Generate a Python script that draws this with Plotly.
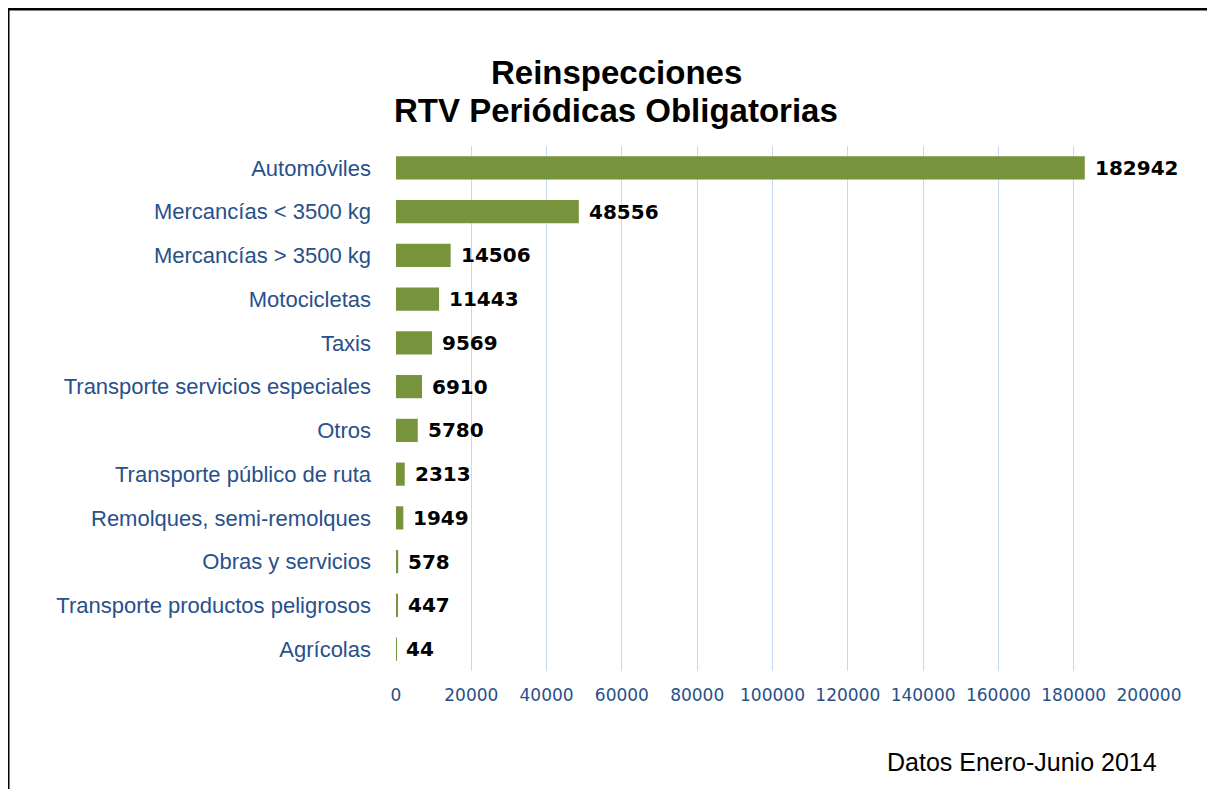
import plotly.graph_objects as go

categories = [
    "Automóviles", "Mercancías < 3500 kg", "Mercancías > 3500 kg", "Motocicletas",
    "Taxis", "Transporte servicios especiales", "Otros", "Transporte público de ruta",
    "Remolques, semi-remolques", "Obras y servicios", "Transporte productos peligrosos",
    "Agrícolas",
]
values = [182942, 48556, 14506, 11443, 9569, 6910, 5780, 2313, 1949, 578, 447, 44]
x_ticks = [0, 20000, 40000, 60000, 80000, 100000, 120000, 140000, 160000, 180000, 200000]

# the page body has an 8px margin, so the figure starts at (8, 8) on screen
OFF = 8
W, H = 1215 - OFF, 789 - OFF
ML, MR, MT, MB = 396 - OFF, 66, 146 - OFF, 118
PW, PH = W - ML - MR, H - MT - MB

label_col = "#28508A"

fig = go.Figure()
fig.add_trace(go.Bar(
    y=categories, x=values, orientation="h",
    marker=dict(color="#77933C", line=dict(width=0)),
    width=0.53, hoverinfo="x+y",
))

for c, v in zip(categories, values):
    fig.add_annotation(x=v, y=c, text=f"<b>{v}</b>", showarrow=False,
                       xanchor="left", xshift=8,
                       font=dict(family="DejaVu Sans", size=20, color="#000000"))

def px_x(p):
    return (p - OFF - ML) / PW

def px_y(p):
    return (H - MB - (p - OFF)) / PH

fig.add_annotation(xref="paper", yref="paper", x=px_x(616), y=px_y(72),
                   xanchor="center", yanchor="middle",
                   text="<b>Reinspecciones</b>", showarrow=False,
                   font=dict(family="Liberation Sans", size=33, color="#000"))
fig.add_annotation(xref="paper", yref="paper", x=px_x(616), y=px_y(110),
                   xanchor="center", yanchor="middle",
                   text="<b>RTV Periódicas Obligatorias</b>", showarrow=False,
                   font=dict(family="Liberation Sans", size=33, color="#000"))
fig.add_annotation(xref="paper", yref="paper", x=px_x(1159), y=px_y(762),
                   xanchor="right", yanchor="middle",
                   text="Datos Enero-Junio 2014", showarrow=False,
                   font=dict(family="Liberation Sans", size=25, color="#000"))

fig.add_shape(type="line", xref="paper", yref="paper",
              x0=px_x(8), x1=px_x(8), y0=px_y(9), y1=px_y(800),
              line=dict(color="#000", width=3))
fig.add_shape(type="line", xref="paper", yref="paper",
              x0=px_x(8), x1=px_x(1230), y0=px_y(9), y1=px_y(9),
              line=dict(color="#000", width=3))

fig.update_layout(
    width=W, height=H,
    margin=dict(l=ML, r=MR, t=MT, b=MB, autoexpand=False),
    paper_bgcolor="white", plot_bgcolor="white",
    showlegend=False,
    bargap=0.47,
    xaxis=dict(range=[0, 200000], tickvals=x_ticks, ticktext=[str(t) for t in x_ticks],
               showgrid=True, gridcolor="#C9DAF0", gridwidth=1, zeroline=False,
               showline=False, ticks="", ticklabelstandoff=12,
               tickfont=dict(family="DejaVu Sans", size=17, color=label_col)),
    yaxis=dict(autorange="reversed", showgrid=False, zeroline=False, showline=False,
               ticks="", ticklabelstandoff=24,
               tickfont=dict(family="Liberation Sans", size=22, color=label_col)),
)

fig.write_html("out.html")
